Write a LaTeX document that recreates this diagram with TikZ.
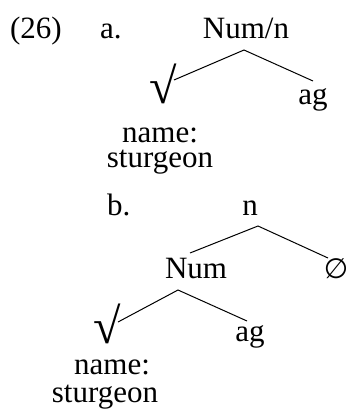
\documentclass[tikz,border=0pt]{standalone}
\usepackage{fontspec}
\setmainfont{Liberation Serif}
\newfontfamily\symfont{DejaVu Sans}
\newcommand{\myroot}{{\fontsize{50}{50}\selectfont √}}
\begin{document}
\begin{tikzpicture}[x=1pt,y=-1pt,
  lbl/.style={inner sep=0pt,outer sep=0pt,anchor=base,font=\fontsize{31}{31}\selectfont},
  lblw/.style={lbl,anchor=base west},
  branch/.style={line width=1pt}]
\useasboundingbox (0,0) rectangle (351,412);
% (a)
\node[lblw] (ex) at (10,39) {(26)};
\node[lblw] (la) at (100,39) {a.};
\node[lbl] (numn) at (246,39) {Num/n};
\node[lbl] (rootA) at (163,103) {\myroot};
\node[lbl] (agA) at (313,104) {ag};
\node[lbl] (nameA) at (160,142) {name:};
\node[lbl] (sturA) at (160,167) {sturgeon};
\coordinate (numnTop) at (244,50);
\coordinate (rootAend) at (174,80);
\coordinate (agAend) at (313,81);
\draw[branch] (rootAend) -- (numnTop) -- (agAend);
% (b)
\node[lblw] (lb) at (107,215) {b.};
\node[lbl] (nB) at (250,215) {n};
\node[lbl] (numB) at (196,278) {Num};
\node[lbl] (nullB) at (336,278) {{\symfont\fontsize{28}{28}\selectfont ∅}};
\node[lbl] (rootB) at (107,343) {\myroot};
\node[lbl] (agB) at (250,341) {ag};
\node[lbl] (nameB) at (112,374) {name:};
\node[lbl] (sturB) at (105,402) {sturgeon};
\coordinate (nTop) at (258,226);
\coordinate (numBend) at (190,253);
\coordinate (nullBend) at (328,258);
\coordinate (numTop) at (178,290);
\coordinate (rootBend) at (118,322);
\coordinate (agBend) at (247,321);
\draw[branch] (numBend) -- (nTop) -- (nullBend);
\draw[branch] (rootBend) -- (numTop) -- (agBend);
\end{tikzpicture}
\end{document}
